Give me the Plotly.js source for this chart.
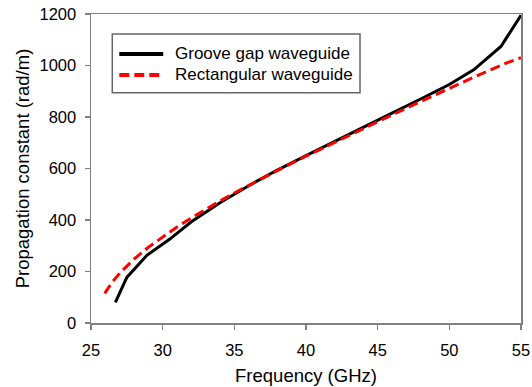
<!DOCTYPE html>
<html>
<head>
<meta charset="utf-8">
<script src="https://cdn.plot.ly/plotly-3.0.1.min.js"></script>
<style>html,body{margin:0;padding:0;background:#fff;}#chart{width:532px;height:387px;}</style>
</head>
<body>
<div id="chart"></div>
<script>
// Groove gap waveguide
const grooveFreq = [26.7, 27.5, 28.9, 30.5, 32, 34, 36, 38, 40, 42, 44, 46, 48, 50, 51.7, 53.6, 55];
const grooveBeta = [80, 177, 263, 326, 393, 467, 533, 594, 650, 706, 760, 815, 870, 926, 983, 1074, 1195];
// Rectangular waveguide
const rectFreq = [25.95, 26.5, 27, 28, 29, 30, 31, 32, 33, 34, 35, 36, 38, 40, 42, 44, 46, 48, 50, 52, 54, 55];
const rectBeta = [115, 160, 193, 248, 294, 335, 373, 408, 442, 474, 505, 535, 592, 648, 702, 756, 808, 860, 912, 962, 1010, 1030];

const seriesNames = ["Groove gap waveguide", "Rectangular waveguide"];
const seriesColors = ["#000000", "#ff0000"];
const xTicks = [25, 30, 35, 40, 45, 50, 55];
const yTicks = [0, 200, 400, 600, 800, 1000, 1200];

const axisColor = "#808080";
const fam = "Liberation Sans, Arial, sans-serif";
const redDash = "10px,5px";

const traces = [
  {x: grooveFreq, y: grooveBeta, name: seriesNames[0], mode: "lines",
   line: {color: seriesColors[0], width: 3}, showlegend: false},
  {x: rectFreq, y: rectBeta, name: seriesNames[1], mode: "lines",
   line: {color: seriesColors[1], width: 3, dash: redDash}, showlegend: false}
];

// Custom legend (box, sample lines, labels) in paper coordinates
const legBox = {x0: 0.0495, x1: 0.6256, y0: 0.745, y1: 0.935};
const legRows = [0.8706, 0.8026];
const legLineX = [0.0658, 0.168];
const legTextX = 0.19;

const shapes = [
  {type: "rect", xref: "paper", yref: "paper", x0: legBox.x0, x1: legBox.x1, y0: legBox.y0, y1: legBox.y1,
   line: {color: "#666666", width: 1.5}, fillcolor: "#ffffff", layer: "above"},
  {type: "line", xref: "paper", yref: "paper", x0: legLineX[0], x1: legLineX[1], y0: legRows[0], y1: legRows[0],
   line: {color: seriesColors[0], width: 4}, layer: "above"},
  {type: "line", xref: "paper", yref: "paper", x0: legLineX[0], x1: legLineX[1], y0: legRows[1], y1: legRows[1],
   line: {color: seriesColors[1], width: 4, dash: redDash}, layer: "above"}
];
const annotations = seriesNames.map((n, i) => ({
  xref: "paper", yref: "paper", x: legTextX, y: legRows[i], xanchor: "left", yanchor: "middle",
  text: n, showarrow: false, font: {family: fam, size: 17, color: "#000"}
}));

const layout = {
  width: 532, height: 387,
  margin: {l: 91, r: 11, t: 14, b: 64},
  paper_bgcolor: "#fff", plot_bgcolor: "#fff",
  font: {family: fam, size: 16, color: "#000"},
  showlegend: false,
  shapes: shapes,
  annotations: annotations,
  xaxis: {range: [25, 55], tickvals: xTicks, ticktext: xTicks.map(String),
          showgrid: false, zeroline: false, showline: true, linecolor: axisColor, linewidth: 1.5,
          mirror: true, ticks: "outside", ticklen: 5, tickwidth: 1.5, tickcolor: axisColor,
          ticklabelstandoff: 7,
          tickfont: {family: fam, size: 16.5, color: "#000"},
          title: {text: "Frequency (GHz)", font: {family: fam, size: 18.5, color: "#000"}, standoff: 11}},
  yaxis: {range: [0, 1200], tickvals: yTicks, ticktext: yTicks.map(String),
          showgrid: false, zeroline: false, showline: true, linecolor: axisColor, linewidth: 1.5,
          mirror: true, ticks: "outside", ticklen: 5, tickwidth: 1.5, tickcolor: axisColor,
          ticklabelstandoff: 5,
          tickfont: {family: fam, size: 16.5, color: "#000"},
          title: {text: "Propagation constant (rad/m)", font: {family: fam, size: 18.5, color: "#000"}, standoff: 5}}
};

Plotly.newPlot("chart", traces, layout, {displayModeBar: false, staticPlot: true});
</script>
</body>
</html>
